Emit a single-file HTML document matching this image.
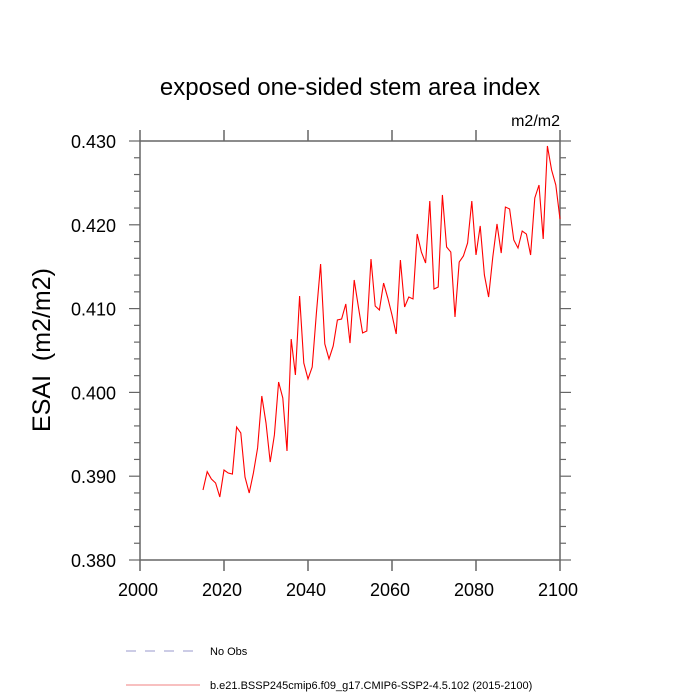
<!DOCTYPE html>
<html><head><meta charset="utf-8"><style>
html,body{margin:0;padding:0;background:#fff;}
svg{display:block;font-family:"Liberation Sans",sans-serif;}
</style></head><body>
<svg id="chart" width="700" height="700">
<text x="350" y="95" font-size="24" text-anchor="middle">exposed one-sided stem area index</text>
<text x="560" y="126" font-size="16" text-anchor="end">m2/m2</text>
<text transform="translate(50,350) rotate(-90)" font-size="25" text-anchor="middle" style="white-space:pre" xml:space="preserve">ESAI  (m2/m2)</text>
<g id="axes"></g>
<g id="series"></g>
<g>
<line x1="126" y1="651" x2="200" y2="651" stroke="#9999cc" stroke-width="1" stroke-dasharray="10,9"/>
<text x="210" y="655" font-size="11">No Obs</text>
<line x1="126" y1="685" x2="200" y2="685" stroke="#f08080" stroke-width="1"/>
<text x="210" y="689" font-size="11">b.e21.BSSP245cmip6.f09_g17.CMIP6-SSP2-4.5.102 (2015-2100)</text>
</g>
</svg>
<script>
const startYear = 2015;
const esai = [388.35,390.54,389.67,389.19,387.52,390.74,390.38,390.26,395.87,395.16,
389.90,387.99,390.38,393.37,399.57,396.35,391.69,394.92,401.24,399.33,
393.01,406.37,402.08,411.50,403.51,401.60,403.03,409.47,415.32,405.78,
403.99,405.54,408.64,408.76,410.55,405.89,413.41,410.19,407.09,407.33,
415.92,410.31,409.83,413.05,411.26,409.24,406.97,415.80,410.19,411.38,
411.15,418.90,416.75,415.44,422.84,412.34,412.58,423.56,417.35,416.75,
409.00,415.56,416.28,417.83,422.84,416.40,419.86,414.01,411.38,416.16,
420.10,416.63,422.12,421.89,418.19,417.23,419.26,418.90,416.40,423.20,
424.75,418.31,429.40,426.54,424.75,420.69];
const xTicks = [2000,2020,2040,2060,2080,2100];
const yTicks = ["0.380","0.390","0.400","0.410","0.420","0.430"];

const X0=140,X1=560,Y0=560,Y1=141;
const xs = yr => X0+(yr-2000)/100*(X1-X0);
const ys = v => Y0-(v-0.380)/0.050*(Y0-Y1);
const NS="http://www.w3.org/2000/svg";
const axes=document.getElementById('axes');
function mk(tag,attrs,parent){const e=document.createElementNS(NS,tag);for(const k in attrs)e.setAttribute(k,attrs[k]);parent.appendChild(e);return e;}
const ac="#666";
const box=mk('rect',{x:X0,y:Y1,width:X1-X0,height:Y0-Y1,fill:'none',stroke:ac,'stroke-width':1.5},axes);


xTicks.forEach(t=>{
  const x=xs(t);
  mk('line',{x1:x,y1:Y0,x2:x,y2:Y0+11,stroke:ac,'stroke-width':1.5},axes);
  mk('line',{x1:x,y1:Y1,x2:x,y2:Y1-11,stroke:ac,'stroke-width':1.5},axes);
  const tx=mk('text',{x:x-2,y:Y0+36,'font-size':18,'text-anchor':'middle'},axes);
  tx.textContent=t;
  
  
});
for(let i=0;i<=25;i++){
  const v=0.380+i*0.002, y=ys(v), major=i%5===0, L=major?11:6;
  mk('line',{x1:X0,y1:y,x2:X0-L,y2:y,stroke:ac,'stroke-width':1.2},axes);
  mk('line',{x1:X1,y1:y,x2:X1+L,y2:y,stroke:ac,'stroke-width':1.2},axes);
}
yTicks.forEach(t=>{
  const tx=mk('text',{x:X0-24,y:ys(parseFloat(t))+7,'font-size':18,'text-anchor':'end'},axes);
  tx.textContent=t;
  
  
});
const pts=esai.map((v,i)=>xs(startYear+i).toFixed(2)+','+ys(v/1000).toFixed(2)).join(' ');
const line=mk('polyline',{points:pts,fill:'none',stroke:'#ff0000','stroke-width':1.1},document.getElementById('series'));


</script>
</body></html>
